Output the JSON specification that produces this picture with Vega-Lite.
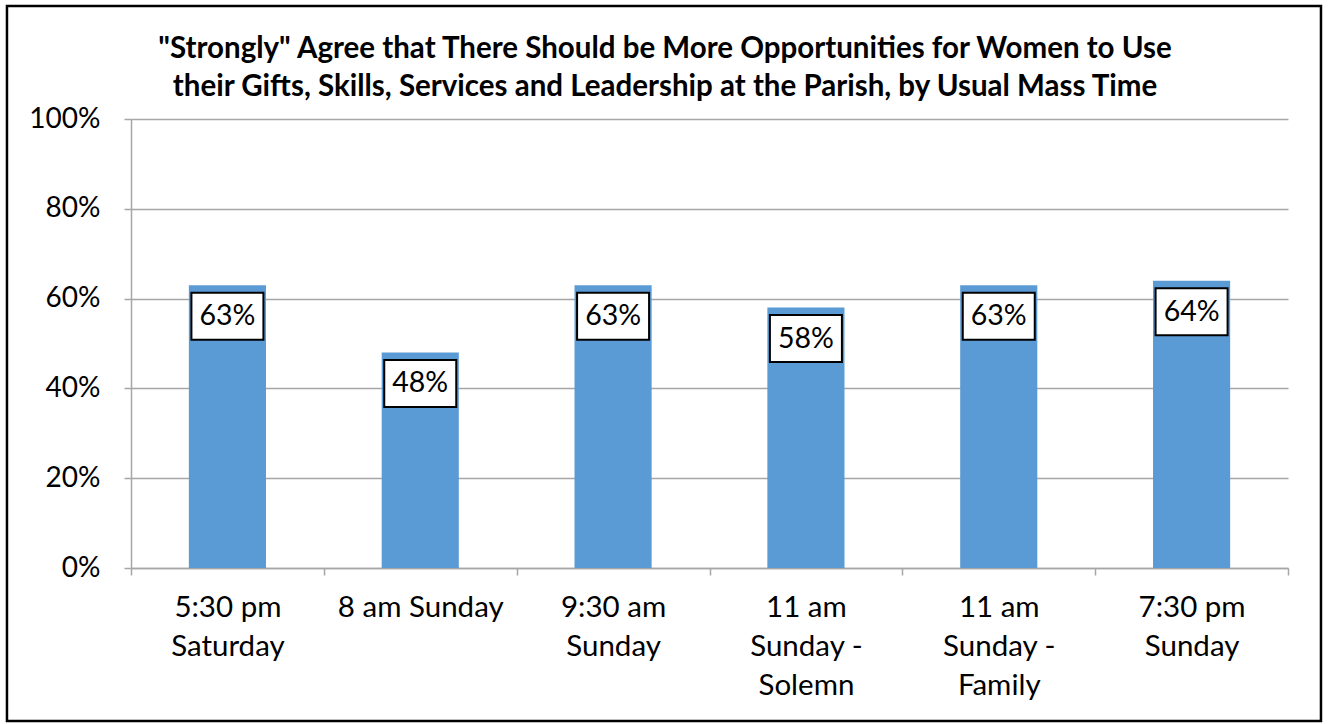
{
  "$schema": "https://vega.github.io/schema/vega-lite/v6.json",
  "width": 1157,
  "height": 449,
  "autosize": {"type": "none"},
  "padding": {"left": 131, "top": 119, "right": 42, "bottom": 156},
  "background": "white",
  "config": {
    "view": {"stroke": null},
    "font": "Lato"
  },
  "title": {
    "text": [
      "\"Strongly\" Agree that There Should be More Opportunities for Women to Use",
      "their Gifts, Skills, Services and Leadership at the Parish, by Usual Mass Time"
    ],
    "font": "Lato",
    "fontSize": 29.5,
    "fontWeight": "bold",
    "color": "black",
    "lineHeight": 38,
    "anchor": "middle",
    "dx": -44.5,
    "offset": -98
  },
  "layer": [
    {
      "description": "Outer frame around the whole chart",
      "data": {"values": [{}]},
      "mark": {"type": "rect", "fill": null, "stroke": "black", "strokeWidth": 2.5},
      "encoding": {
        "x": {"datum": -0.1072, "type": "quantitative", "scale": {"domain": [0, 1], "nice": false, "zero": false}, "axis": null},
        "x2": {"datum": 1.0285},
        "y": {"datum": 1.2517, "type": "quantitative", "scale": {"domain": [0, 1], "nice": false, "zero": false}, "axis": null},
        "y2": {"datum": -0.3408}
      }
    },
    {
      "data": {
        "values": [
          {"time": "5:30 pm|Saturday", "pct": 0.63},
          {"time": "8 am Sunday", "pct": 0.48},
          {"time": "9:30 am|Sunday", "pct": 0.63},
          {"time": "11 am|Sunday -|Solemn", "pct": 0.58},
          {"time": "11 am|Sunday -|Family", "pct": 0.63},
          {"time": "7:30 pm|Sunday", "pct": 0.64}
        ]
      },
      "encoding": {
        "x": {
          "field": "time",
          "type": "nominal",
          "sort": null,
          "scale": {"paddingInner": 0, "paddingOuter": 0},
          "axis": {
            "title": null,
            "labelAngle": 0,
            "labelExpr": "isValid(datum.value) ? split(datum.value, '|') : ''",
            "labelFont": "Lato",
            "labelFontSize": 29.5,
            "labelColor": "black",
            "labelLineHeight": 39,
            "labelPadding": 18,
            "labelBaseline": "top",
            "tickBand": "extent",
            "tickSize": 7,
            "tickColor": "#a6a6a6",
            "tickWidth": 1.5,
            "domainColor": "#a6a6a6",
            "domainWidth": 1.5,
            "grid": false
          }
        },
        "y": {
          "field": "pct",
          "type": "quantitative",
          "scale": {"domain": [0, 1], "nice": false},
          "axis": {
            "title": null,
            "values": [0, 0.2, 0.4, 0.6, 0.8, 1],
            "format": ".0%",
            "labelFont": "Lato",
            "labelFontSize": 28,
            "labelColor": "black",
            "labelPadding": 24,
            "tickSize": 7,
            "tickColor": "#a6a6a6",
            "tickWidth": 1.5,
            "domainColor": "#a6a6a6",
            "domainWidth": 1.5,
            "grid": true,
            "gridColor": "#a6a6a6",
            "gridWidth": 1.5
          }
        }
      },
      "layer": [
        {
          "mark": {"type": "bar", "color": "#5b9bd5", "width": {"band": 0.4}}
        },
        {
          "mark": {
            "type": "point",
            "shape": "M-1,-0.6528L1,-0.6528L1,0.6528L-1,0.6528Z",
            "size": 5184,
            "filled": true,
            "fill": "white",
            "stroke": "black",
            "strokeWidth": 2,
            "opacity": 1,
            "yOffset": 31
          }
        },
        {
          "mark": {
            "type": "text",
            "font": "Lato",
            "fontSize": 28.5,
            "color": "black",
            "baseline": "middle",
            "align": "center",
            "yOffset": 31
          },
          "encoding": {
            "text": {"field": "pct", "type": "quantitative", "format": ".0%"}
          }
        }
      ]
    }
  ],
  "resolve": {"scale": {"x": "independent", "y": "independent"}}
}
